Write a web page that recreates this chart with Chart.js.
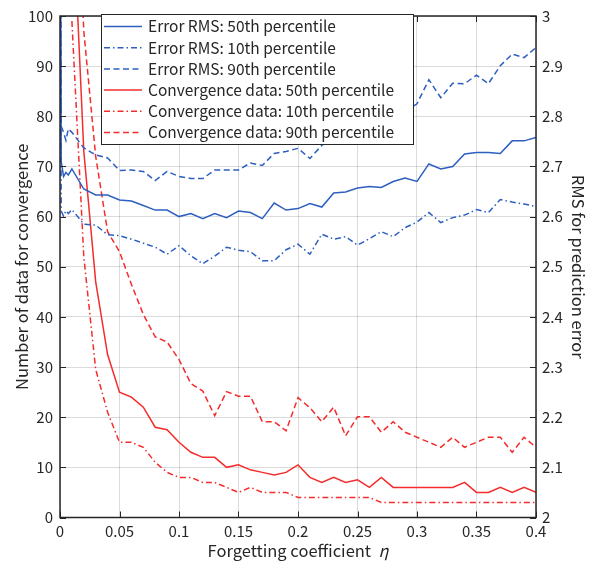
<!DOCTYPE html>
<html>
<head>
<meta charset="utf-8">
<script src="https://cdn.jsdelivr.net/npm/chart.js@4.4.1/dist/chart.umd.min.js"></script>
<style>
  html, body { margin: 0; padding: 0; background: #fff; }
  #wrap { width: 600px; height: 569px; }
</style>
</head>
<body>
<div id="wrap"><canvas id="chart" width="600" height="569"></canvas></div>
<script>
// forgetting coefficient (x)
const etaFine = [0, 0.001, 0.003, 0.005, 0.007];
const eta = [0.01, 0.02, 0.03, 0.04, 0.05, 0.06, 0.07, 0.08, 0.09, 0.1,
             0.11, 0.12, 0.13, 0.14, 0.15, 0.16, 0.17, 0.18, 0.19, 0.2,
             0.21, 0.22, 0.23, 0.24, 0.25, 0.26, 0.27, 0.28, 0.29, 0.3,
             0.31, 0.32, 0.33, 0.34, 0.35, 0.36, 0.37, 0.38, 0.39, 0.4];

// RMS for prediction error (right axis)
const rmsP50Fine = [3.5, 2.71, 2.68, 2.688, 2.683];
const rmsP50 = [2.695, 2.655, 2.643, 2.643, 2.633, 2.631, 2.622, 2.613, 2.613, 2.600,
                2.606, 2.596, 2.606, 2.598, 2.611, 2.608, 2.596, 2.627, 2.613, 2.616,
                2.626, 2.619, 2.647, 2.649, 2.657, 2.660, 2.658, 2.670, 2.677, 2.670,
                2.705, 2.695, 2.700, 2.725, 2.728, 2.728, 2.726, 2.751, 2.751, 2.758];
const rmsP10Fine = [3.5, 2.611, 2.601, 2.612, 2.606];
const rmsP10 = [2.614, 2.585, 2.583, 2.564, 2.562, 2.555, 2.547, 2.539, 2.525, 2.542,
                2.522, 2.506, 2.521, 2.539, 2.533, 2.530, 2.512, 2.512, 2.534, 2.545,
                2.525, 2.565, 2.555, 2.560, 2.543, 2.556, 2.570, 2.560, 2.578, 2.589,
                2.608, 2.588, 2.598, 2.603, 2.614, 2.608, 2.634, 2.629, 2.625, 2.620];
const rmsP90Fine = [3.5, 2.78, 2.768, 2.752, 2.775];
const rmsP90 = [2.768, 2.737, 2.723, 2.717, 2.692, 2.693, 2.690, 2.672, 2.690, 2.680,
                2.676, 2.676, 2.693, 2.693, 2.693, 2.707, 2.702, 2.726, 2.730, 2.736,
                2.716, 2.742, 2.76, 2.77, 2.77, 2.79, 2.79, 2.80, 2.81, 2.825,
                2.873, 2.837, 2.866, 2.865, 2.882, 2.865, 2.901, 2.924, 2.917, 2.937];

// number of data for convergence (left axis)
const convP50 = [126, 73, 47, 32.5, 25, 24, 22, 18, 17.5, 15,
                 13, 12, 12, 10, 10.5, 9.5, 9, 8.5, 9, 10.5,
                 8, 7, 8, 7, 7.5, 6, 8, 6, 6, 6,
                 6, 6, 6, 7, 5, 5, 6, 5, 6, 5];
const convP10 = [99, 52, 29.5, 21, 15, 15, 14, 11, 9, 8,
                 8, 7, 7, 6, 5, 6, 5, 5, 5, 4,
                 4, 4, 4, 4, 4, 4, 3, 3, 3, 3,
                 3, 3, 3, 3, 3, 3, 3, 3, 3, 3];
const convP90 = [150, 97, 72, 57, 53, 46.5, 40.5, 36, 35, 31.5,
                 26.7, 25.2, 20.3, 25.1, 24.2, 24.2, 19.1, 19.1, 17.3, 23.9,
                 21.9, 19.1, 22, 16.3, 20.1, 20.1, 17, 19.1, 17, 16,
                 15, 14, 16, 14, 15, 16, 16, 13, 16, 14];

const leftTicks = [0, 10, 20, 30, 40, 50, 60, 70, 80, 90, 100];
const rightTicks = [2, 2.1, 2.2, 2.3, 2.4, 2.5, 2.6, 2.7, 2.8, 2.9, 3];
const xTicks = [0, 0.05, 0.1, 0.15, 0.2, 0.25, 0.3, 0.35, 0.4];

const FONT = "'Noto Sans CJK JP', 'Noto Sans', sans-serif";
const TXT = '#262626';
const BLUE = '#2d5fc0';
const RED = '#f52c2c';
const DASH = [6, 3.5];
const DASHDOT = [6, 3, 1.5, 3];

const pts = (xs, ys) => xs.map((x, i) => ({ x: x, y: ys[i] }));

function series(label, data, color, dash, axis) {
    return {
        label: label,
        data: data,
        yAxisID: axis,
        borderColor: color,
        backgroundColor: color,
        borderWidth: 1.5,
        borderDash: dash,
        pointRadius: 0,
        tension: 0,
        fill: false
    };
}

const datasets = [
    series('Error RMS: 50th percentile', pts(etaFine.concat(eta), rmsP50Fine.concat(rmsP50)), BLUE, [], 'y2'),
    series('Error RMS: 10th percentile', pts(etaFine.concat(eta), rmsP10Fine.concat(rmsP10)), BLUE, DASHDOT, 'y2'),
    series('Error RMS: 90th percentile', pts(etaFine.concat(eta), rmsP90Fine.concat(rmsP90)), BLUE, DASH, 'y2'),
    series('Convergence data: 50th percentile', pts(eta, convP50), RED, [], 'y'),
    series('Convergence data: 10th percentile', pts(eta, convP10), RED, DASHDOT, 'y'),
    series('Convergence data: 90th percentile', pts(eta, convP90), RED, DASH, 'y')
];

// box, inward ticks, legend and x label in the MATLAB style
const framePlugin = {
    id: 'frame',
    afterDatasetsDraw(chart) {
        const ctx = chart.ctx;
        const a = chart.chartArea;
        const sx = chart.scales.x, sy = chart.scales.y, sy2 = chart.scales.y2;
        ctx.save();
        ctx.strokeStyle = TXT;
        ctx.lineWidth = 1;
        ctx.setLineDash([]);
        ctx.beginPath();
        leftTicks.forEach(v => {
            const p = Math.round(sy.getPixelForValue(v)) + 0.5;
            ctx.moveTo(a.left, p); ctx.lineTo(a.left + 6, p);
        });
        rightTicks.forEach(v => {
            const p = Math.round(sy2.getPixelForValue(v)) + 0.5;
            ctx.moveTo(a.right, p); ctx.lineTo(a.right - 6, p);
        });
        xTicks.forEach(v => {
            const p = Math.round(sx.getPixelForValue(v)) + 0.5;
            ctx.moveTo(p, a.bottom); ctx.lineTo(p, a.bottom - 6);
            ctx.moveTo(p, a.top); ctx.lineTo(p, a.top + 6);
        });
        ctx.stroke();
        ctx.lineWidth = 1.5;
        ctx.strokeRect(a.left, a.top, a.right - a.left, a.bottom - a.top);

        // legend box
        const lx = 101, ly = 14, lw = 312, lh = 130;
        ctx.fillStyle = '#fff';
        ctx.fillRect(lx, ly, lw, lh);
        ctx.lineWidth = 1;
        ctx.strokeRect(lx + 0.5, ly + 0.5, lw, lh);
        ctx.font = '15.5px ' + FONT;
        ctx.textBaseline = 'middle';
        ctx.textAlign = 'left';
        chart.data.datasets.forEach((ds, i) => {
            const y = ly + 12.5 + i * 21.2;
            ctx.strokeStyle = ds.borderColor;
            ctx.lineWidth = 1.5;
            ctx.setLineDash(ds.borderDash);
            ctx.beginPath();
            ctx.moveTo(lx + 3, y); ctx.lineTo(lx + 41, y);
            ctx.stroke();
            ctx.setLineDash([]);
            ctx.fillStyle = TXT;
            ctx.fillText(ds.label, lx + 47, y);
        });

        // x axis title with italic eta
        const t1 = 'Forgetting coefficient  ';
        const t2 = 'η';
        ctx.font = '16.5px ' + FONT;
        const w1 = ctx.measureText(t1).width;
        ctx.font = 'italic 16.5px ' + FONT;
        const w2 = ctx.measureText(t2).width;
        const cx = (a.left + a.right) / 2;
        const start = cx - (w1 + w2) / 2;
        ctx.fillStyle = TXT;
        ctx.font = '16.5px ' + FONT;
        ctx.fillText(t1, start, 551);
        ctx.font = 'italic 16.5px ' + FONT;
        ctx.fillText(t2, start + w1, 551);
        ctx.restore();
    }
};

const gridColor = 'rgba(0,0,0,0.14)';
const tickFont = { family: FONT, size: 15 };

new Chart(document.getElementById('chart'), {
    type: 'line',
    data: { datasets: datasets },
    plugins: [framePlugin],
    options: {
        responsive: false,
        animation: false,
        layout: { padding: { top: 11.5 } },
        plugins: { legend: { display: false }, tooltip: { enabled: false } },
        scales: {
            x: {
                type: 'linear',
                min: 0, max: 0.4,
                afterFit: s => { s.height = 51.5; },
                afterBuildTicks: s => { s.ticks = xTicks.map(v => ({ value: v })); },
                grid: { color: gridColor, lineWidth: 1, drawTicks: false },
                border: { display: false },
                ticks: {
                    color: TXT, font: tickFont, padding: 5, maxRotation: 0,
                    callback: v => String(+v.toFixed(2))
                }
            },
            y: {
                position: 'left',
                min: 0, max: 100,
                afterFit: s => { s.width = 60; },
                afterBuildTicks: s => { s.ticks = leftTicks.map(v => ({ value: v })); },
                grid: { color: gridColor, lineWidth: 1, drawTicks: false },
                border: { display: false },
                ticks: { color: TXT, font: tickFont, padding: 7 },
                title: {
                    display: true, text: 'Number of data for convergence',
                    color: TXT, font: { family: FONT, size: 16.5 }, padding: { top: 12, bottom: 0 }
                }
            },
            y2: {
                position: 'right',
                min: 2, max: 3,
                afterFit: s => { s.width = 64; },
                afterBuildTicks: s => { s.ticks = rightTicks.map(v => ({ value: v })); },
                grid: { drawOnChartArea: false, drawTicks: false },
                border: { display: false },
                ticks: {
                    color: TXT, font: tickFont, padding: 6,
                    callback: v => String(+v.toFixed(1))
                },
                title: {
                    display: true, text: 'RMS for prediction error',
                    color: TXT, font: { family: FONT, size: 16.5 }, padding: { top: 12, bottom: 0 }
                }
            }
        }
    }
});
</script>
</body>
</html>
